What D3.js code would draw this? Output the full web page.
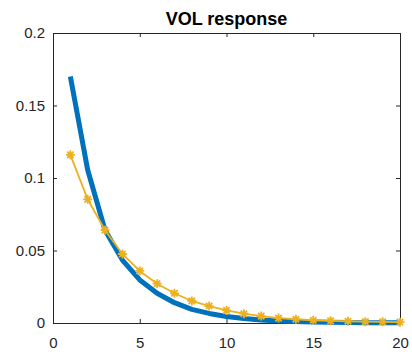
<!DOCTYPE html>
<html lang="en">
<head>
    <meta charset="UTF-8">
    <title>VOL response</title>
    <style>
        body { margin: 0; background: #fff; }
        svg text { font-family: "Liberation Sans", Arial, sans-serif; fill: #262626; }
    </style>
</head>
<body>
    <div id="chart"></div>

    <script src="https://d3js.org/d3.v7.min.js"></script>
    <script>
        // Data
        const steps = [1, 2, 3, 4, 5, 6, 7, 8, 9, 10, 11, 12, 13, 14, 15, 16, 17, 18, 19, 20];
        const blueValues = [0.170, 0.1055, 0.064, 0.0434, 0.0297, 0.0205, 0.014, 0.0094, 0.0066, 0.0045,
                            0.0031, 0.0021, 0.0014, 0.0010, 0.0007, 0.0005, 0.0003, 0.0002, 0.0002, 0.0001];
        const yellowValues = [0.116, 0.0853, 0.064, 0.0476, 0.0359, 0.0271, 0.0205, 0.0152, 0.0117, 0.0087,
                              0.0064, 0.0048, 0.0034, 0.0026, 0.0019, 0.0015, 0.0012, 0.0009, 0.0008, 0.0006];
        const xTicks = [0, 5, 10, 15, 20];
        const yTicks = [0, 0.05, 0.1, 0.15, 0.2];
        const title = 'VOL response';

        const W = 412, H = 352;
        const margin = { top: 33, right: 12, bottom: 29, left: 53 };
        const width = W - margin.left - margin.right;
        const height = H - margin.top - margin.bottom;

        const svg = d3.select('#chart').append('svg')
            .attr('width', W)
            .attr('height', H);

        const g = svg.append('g')
            .attr('transform', `translate(${margin.left},${margin.top})`);

        const x = d3.scaleLinear().domain([0, 20]).range([0, width]);
        const y = d3.scaleLinear().domain([0, 0.2]).range([height, 0]);

        const axisColor = '#262626';
        const tickLen = 4;

        // Axes (MATLAB style: ticks inside, box on)
        const xAxis = g.append('g')
            .attr('transform', `translate(0,${height})`)
            .call(d3.axisBottom(x).tickValues(xTicks).tickSizeInner(-tickLen).tickSizeOuter(0).tickPadding(14).tickFormat(d3.format('d')));
        const yAxis = g.append('g')
            .call(d3.axisLeft(y).tickValues(yTicks).tickSizeInner(-tickLen).tickSizeOuter(0).tickPadding(8).tickFormat(d => d === 0 ? '0' : String(d)));
        g.append('g')
            .call(d3.axisTop(x).tickValues(xTicks).tickSizeInner(-tickLen).tickSizeOuter(0).tickFormat(''));
        g.append('g')
            .attr('transform', `translate(${width},0)`)
            .call(d3.axisRight(y).tickValues(yTicks).tickSizeInner(-tickLen).tickSizeOuter(0).tickFormat(''));

        g.selectAll('.domain').attr('stroke', axisColor).attr('stroke-width', 1);
        g.selectAll('.tick line').attr('stroke', axisColor).attr('stroke-width', 1);
        xAxis.selectAll('text').attr('font-size', 15).style('fill', axisColor);
        yAxis.selectAll('text').attr('font-size', 15).style('fill', axisColor);

        // Blue thick line
        const line = d3.line()
            .x((d, i) => x(steps[i]))
            .y(d => y(d));

        g.append('path')
            .datum(blueValues)
            .attr('fill', 'none')
            .attr('stroke', '#0072BD')
            .attr('stroke-width', 5)
            .attr('stroke-linejoin', 'round')
            .attr('d', line);

        // Yellow line with star markers
        g.append('path')
            .datum(yellowValues)
            .attr('fill', 'none')
            .attr('stroke', '#EDB120')
            .attr('stroke-width', 1.8)
            .attr('d', line);

        const star = 'M-4.5,0H4.5M0,-4.5V4.5M-3.2,-3.2L3.2,3.2M-3.2,3.2L3.2,-3.2';
        g.selectAll('.marker')
            .data(yellowValues)
            .enter()
            .append('path')
            .attr('class', 'marker')
            .attr('transform', (d, i) => `translate(${x(steps[i])},${y(d)})`)
            .attr('d', star)
            .attr('stroke', '#EDB120')
            .attr('stroke-width', 1.8)
            .attr('fill', 'none');

        // Title
        svg.append('text')
            .attr('x', margin.left + width / 2)
            .attr('y', 25)
            .attr('text-anchor', 'middle')
            .attr('font-size', 18)
            .attr('font-weight', 'bold')
            .style('fill', '#000')
            .text(title);
    </script>
</body>
</html>
